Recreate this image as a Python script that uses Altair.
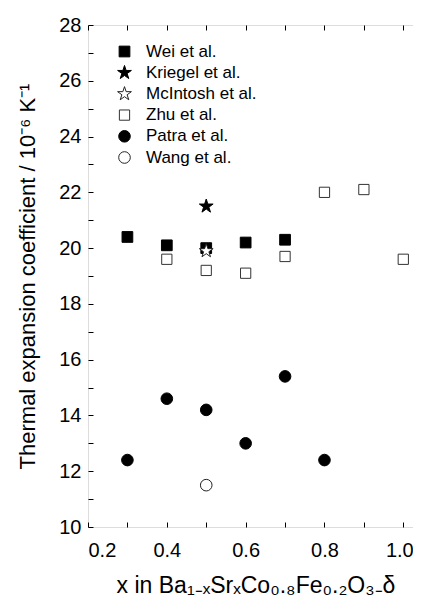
import altair as alt
import pandas as pd

series = ["Wei et al.", "Kriegel et al.", "McIntosh et al.", "Zhu et al.", "Patra et al.", "Wang et al."]

wei_x = [0.3, 0.4, 0.5, 0.6, 0.7]
wei_y = [20.4, 20.1, 20.0, 20.2, 20.3]
kriegel_x = [0.5]
kriegel_y = [21.5]
mcintosh_x = [0.5]
mcintosh_y = [19.9]
zhu_x = [0.4, 0.5, 0.6, 0.7, 0.8, 0.9, 1.0]
zhu_y = [19.6, 19.2, 19.1, 19.7, 22.0, 22.1, 19.6]
patra_x = [0.3, 0.4, 0.5, 0.6, 0.7, 0.8]
patra_y = [12.4, 14.6, 14.2, 13.0, 15.4, 12.4]
wang_x = [0.5]
wang_y = [11.5]

x_label_ticks = [0.2, 0.4, 0.6, 0.8, 1.0]
x_all_ticks = [0.2, 0.3, 0.4, 0.5, 0.6, 0.7, 0.8, 0.9, 1.0]
y_label_ticks = [10, 12, 14, 16, 18, 20, 22, 24, 26, 28]
y_all_ticks = list(range(10, 29))

rows = []
for name, xs, ys in [
    (series[0], wei_x, wei_y),
    (series[1], kriegel_x, kriegel_y),
    (series[3], zhu_x, zhu_y),
    (series[4], patra_x, patra_y),
    (series[5], wang_x, wang_y),
    (series[2], mcintosh_x, mcintosh_y),
]:
    for xv, yv in zip(xs, ys):
        rows.append({"x": xv, "y": yv, "series": name})
df = pd.DataFrame(rows)

STAR = ("M0,-1L0.2245,-0.309L0.951,-0.309L0.363,0.118L0.588,0.809L0,0.382"
        "L-0.588,0.809L-0.363,0.118L-0.951,-0.309L-0.2245,-0.309Z")
shapes = ["square", STAR, STAR, "square", "circle", "circle"]
fills = ["black", "black", "white", "white", "black", "white"]
strokes = ["black", "black", "#222222", "#333333", "black", "#222222"]
sizes = [115, 210, 210, 105, 135, 135]

FONT = "Liberation Sans"
xscale = alt.Scale(domain=[0.2, 1.05], nice=False, zero=False)
yscale = alt.Scale(domain=[10, 28], nice=False, zero=False)

legend = alt.Legend(
    title=None, orient="none", legendX=28, legendY=18,
    labelFont=FONT, labelFontSize=17, labelColor="black",
    labelOffset=13, rowPadding=3.2, symbolStrokeWidth=1, symbolOpacity=1,
)

base = alt.Chart(df)

points = base.mark_point(filled=True, strokeWidth=1, opacity=1).encode(
    x=alt.X("x:Q", scale=xscale,
            title="x in Ba₁₋ₓSrₓCo₀.₈Fe₀.₂O₃₋δ",
            axis=alt.Axis(values=x_label_ticks, format=".1f", ticks=False, domain=False,
                          grid=False, labelPadding=13, labelFontSize=20, labelFont=FONT,
                          labelOffset={"condition": {"test": "datum.value > 0.95", "value": -4}, "value": 0},
                          labelColor="black", titleFont=FONT, titleFontSize=23,
                          titleFontWeight="normal", titleColor="black", titlePadding=14)),
    y=alt.Y("y:Q", scale=yscale,
            title="Thermal expansion coefficient / 10⁻⁶ K⁻¹",
            axis=alt.Axis(values=y_label_ticks, format="d", ticks=False, domain=False,
                          grid=False, labelPadding=7, labelFontSize=20, labelFont=FONT,
                          labelColor="black", titleFont=FONT, titleFontSize=22,
                          titleFontWeight="normal", titleColor="black", titlePadding=19)),
    shape=alt.Shape("series:N", scale=alt.Scale(type="ordinal", domain=series, range=shapes), legend=legend),
    fill=alt.Fill("series:N", scale=alt.Scale(type="ordinal", domain=series, range=fills), legend=legend),
    stroke=alt.Stroke("series:N", scale=alt.Scale(type="ordinal", domain=series, range=strokes), legend=legend),
    size=alt.Size("series:N", scale=alt.Scale(type="ordinal", domain=series, range=sizes), legend=legend),
)

tick_kw = dict(labels=False, domain=False, grid=False, tickSize=5, tickColor="black", tickWidth=1)

ticks_bl = base.mark_point(opacity=0).encode(
    x=alt.X("x:Q", scale=xscale, title=None,
            axis=alt.Axis(orient="bottom", offset=-5, values=x_all_ticks, **tick_kw)),
    y=alt.Y("y:Q", scale=yscale, title=None,
            axis=alt.Axis(orient="left", offset=-5, values=y_all_ticks, **tick_kw)),
)
ticks_tr = base.mark_point(opacity=0).encode(
    x=alt.X("x:Q", scale=xscale, title=None,
            axis=alt.Axis(orient="top", offset=-5, values=x_all_ticks, **tick_kw)),
    y=alt.Y("y:Q", scale=yscale, title=None,
            axis=alt.Axis(orient="right", offset=-5, values=y_all_ticks, **tick_kw)),
)

chart = alt.layer(points, ticks_bl, ticks_tr).resolve_axis(
    x="independent", y="independent"
).properties(
    width=335, height=502,
    autosize=alt.AutoSizeParams(type="none"),
    padding={"left": 80, "top": 17, "right": -10, "bottom": 72},
).configure_view(stroke="black", strokeWidth=1).configure(background="white")

chart.save("out.html", embed_options={"renderer": "svg", "actions": False})
